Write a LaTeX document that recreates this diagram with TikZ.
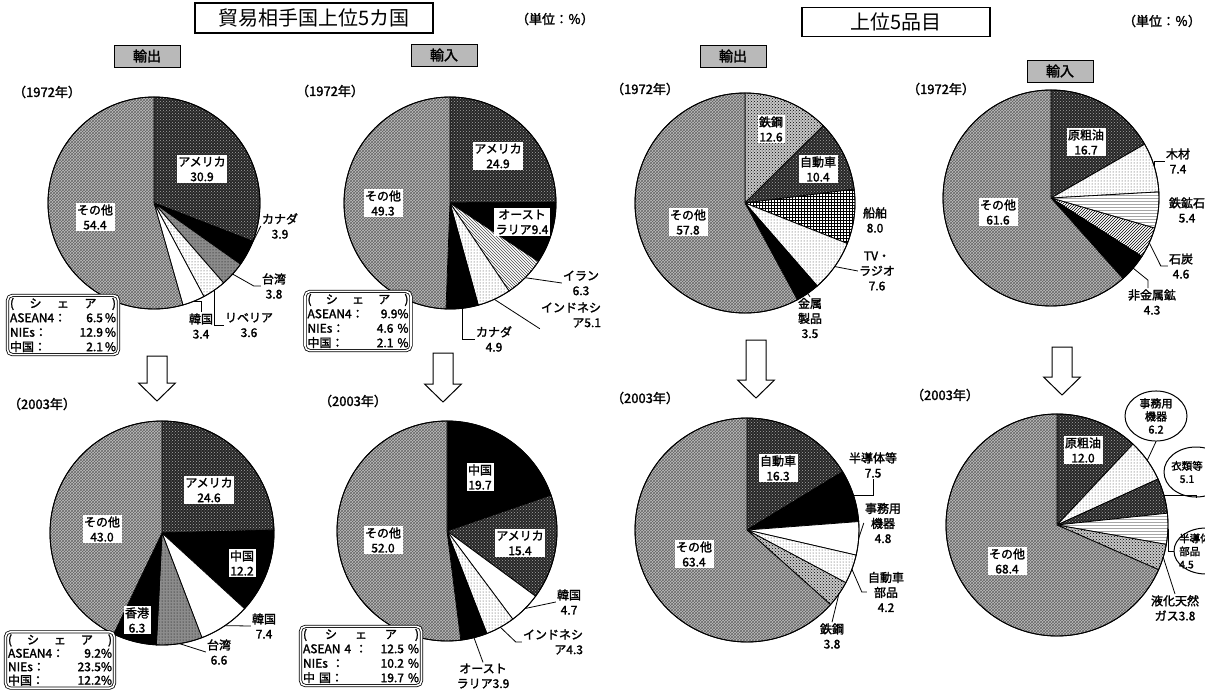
\documentclass[tikz,border=0pt]{standalone}
\usepackage{fontspec}
\setmainfont{Noto Sans CJK JP}[FakeBold=1.8]
\newfontfamily\ttlfont{Noto Sans CJK JP}
\usetikzlibrary{patterns, shapes.geometric, calc}
\tikzset{
  slc/.style={draw=black, line width=0.8pt},
  sothr/.style={slc, preaction={fill=gray!50}, pattern=crosshatch, pattern color=black!60},
  sdark/.style={slc, preaction={fill=black!85}, pattern=crosshatch dots, pattern color=gray!70},
  smid/.style={slc, preaction={fill=black!45}, pattern=dots, pattern color=black},
  sblk/.style={slc, fill=black},
  swht/.style={slc, fill=white},
  slite/.style={slc, preaction={fill=white}, pattern=dots, pattern color=black!80},
  schk/.style={slc, preaction={fill=gray!45}, pattern=crosshatch dots, pattern color=black},
  snet/.style={slc, preaction={fill=white}, pattern=grid, pattern color=black},
  swave/.style={slc, preaction={fill=white}, pattern=north west lines, pattern color=black!70},
  shatch/.style={slc, preaction={fill=white}, pattern=north east lines, pattern color=black},
  sdash/.style={slc, preaction={fill=white}, pattern=horizontal lines, pattern color=gray!70},
  inb/.style={
    rectangle,
    fill=white,
    inner sep=1.5pt,
    align=center,
    font=\fontsize{12}{15}\selectfont
  },
  outl/.style={
    rectangle,
    inner sep=1pt,
    align=center,
    font=\fontsize{12}{15}\selectfont
  },
  ovl/.style={
    ellipse,
    draw=black,
    line width=1pt,
    fill=white,
    inner sep=0pt,
    align=center,
    font=\fontsize{11}{13}\selectfont
  },
  ovltxt/.style={
    inner sep=0pt,
    font=\fontsize{10.5}{13}\selectfont
  },
  sharebx/.style={
    rectangle,
    rounded corners=5pt,
    draw=black,
    double,
    double distance=1.6pt,
    line width=0.8pt,
    fill=white,
    inner sep=2.5pt,
    align=left,
    font=\fontsize{12}{14.5}\selectfont
  },
  ttl/.style={
    rectangle,
    draw=black,
    line width=1.5pt,
    align=center,
    font=\ttlfont\fontsize{20}{24}\selectfont
  },
  hdr/.style={
    rectangle,
    draw=black,
    fill=gray!55,
    minimum width=66,
    minimum height=22,
    font=\fontsize{14}{16}\selectfont
  },
  yr/.style={font=\fontsize{13}{15}\selectfont, inner sep=0pt},
  unit/.style={font=\fontsize{13}{15}\selectfont, inner sep=0pt},
  arrw/.style={draw=black, line width=1pt, fill=white},
  ldr/.style={draw=black, line width=0.8pt}
}
\newcommand\drawpie[3]{%
  \foreach \pa/\pb/\ps in {#3}
    \path[\ps] (#1) -- ++({-90+3.6*\pa}:#2)
      arc[start angle={-90+3.6*\pa}, end angle={-90+3.6*\pb}, radius=#2] -- cycle;
  \draw[line width=0.9pt] (#1) circle[radius=#2];}
\newcommand\hollowarrow[3]{%
  \draw[arrw] (#1-10,#2) -- (#1+10,#2) -- (#1+10,#3-18) -- (#1+18.5,#3-18)
    -- (#1,#3) -- (#1-18.5,#3-18) -- (#1-10,#3-18) -- cycle;}
\begin{document}
\begin{tikzpicture}[x=1pt, y=-1pt]
  \useasboundingbox (0,0) rectangle (1205,694);
  \coordinate (pc1) at (154,203);
  \coordinate (pc2) at (450,203);
  \coordinate (pc3) at (745,203);
  \coordinate (pc4) at (1051,198);
  \coordinate (pc5) at (162,533);
  \coordinate (pc6) at (447,531);
  \coordinate (pc7) at (747,530);
  \coordinate (pc8) at (1057,525);

  % pies
  \drawpie{pc1}{106}{0/30.9/sdark, 30.9/34.8/sblk, 34.8/38.6/smid, 38.6/42.2/slite, 42.2/45.6/swht, 45.6/100/sothr}
  \drawpie{pc2}{106}{0/24.9/sdark, 24.9/34.3/sblk, 34.3/40.6/swave, 40.6/45.7/slite, 45.7/50.6/sblk, 50.6/100/sothr}
  \drawpie{pc3}{110}{0/12.6/schk, 12.6/23/sdark, 23/31/snet, 31/38.6/slite, 38.6/42.1/sblk, 42.1/100/sothr}
  \drawpie{pc4}{108}{0/16.7/sdark, 16.7/24.1/slite, 24.1/29.5/sdash, 29.5/34.1/shatch, 34.1/38.4/sblk, 38.4/100/sothr}
  \drawpie{pc5}{112}{0/24.6/sdark, 24.6/36.8/sblk, 36.8/44.2/swht, 44.2/50.8/smid, 50.8/57.1/sblk, 57.1/100/sothr}
  \drawpie{pc6}{110}{0/19.7/sblk, 19.7/35.1/sdark, 35.1/39.8/swht, 39.8/44.1/slite, 44.1/48/sblk, 48/100/sothr}
  \drawpie{pc7}{112}{0/16.3/sdark, 16.3/23.8/sblk, 23.8/28.6/swht, 28.6/32.8/slite, 32.8/36.6/schk, 36.6/100/sothr}
  \drawpie{pc8}{111}{0/12/sdark, 12/18.2/slite, 18.2/23.3/sdark, 23.3/27.8/sdash, 27.8/31.6/schk, 31.6/100/sothr}

  % headings
  \node (ttl1) [ttl, minimum width=238, minimum height=30] at (314,18) {貿易相手国上位5カ国};
  \node (ttl2) [ttl, minimum width=188, minimum height=29] at (896,22) {上位5品目};
  \node (unt1) [unit] at (555,19) {（単位：％）};
  \node (unt2) [unit] at (1162,21) {（単位：％）};
  \node (hx1) [hdr] at (147,56) {輸出};
  \node (hx2) [hdr] at (444,55) {輸入};
  \node (hx3) [hdr] at (733,56) {輸出};
  \node (hx4) [hdr] at (1060,71) {輸入};
  \node (y1) [yr] at (47,92) {（1972年）};
  \node (y2) [yr] at (330,91) {（1972年）};
  \node (y3) [yr] at (645,89) {（1972年）};
  \node (y4) [yr] at (941,89) {（1972年）};
  \node (y5) [yr] at (42,404) {（2003年）};
  \node (y6) [yr] at (353,401) {（2003年）};
  \node (y7) [yr] at (645,398) {（2003年）};
  \node (y8) [yr] at (945,395) {（2003年）};

  % arrows
  \hollowarrow{157}{356}{401}
  \hollowarrow{443}{353}{402}
  \hollowarrow{756}{340}{398}
  \hollowarrow{1062}{347}{395}

  % labels inside
  \node (n1ame) [inb] at (202,169) {アメリカ\\30.9};
  \node (n1oth) [inb] at (95,217) {その他\\54.4};
  \node (n2ame) [inb] at (498,156) {アメリカ\\24.9};
  \node (n2oth) [inb] at (383,203) {その他\\49.3};
  \node (n2aus) [inb] at (522,222) {オースト\\ラリア9.4};
  \node (n3tek) [inb] at (771,129) {鉄鋼\\12.6};
  \node (n3car) [inb] at (818,169) {自動車\\10.4};
  \node (n3oth) [inb] at (688,222) {その他\\57.8};
  \node (n4oil) [inb] at (1086,142) {原粗油\\16.7};
  \node (n4oth) [inb] at (998,212) {その他\\61.6};
  \node (n5ame) [inb] at (209,490) {アメリカ\\24.6};
  \node (n5oth) [inb] at (102,529) {その他\\43.0};
  \node (n5chi) [inb] at (242,563) {中国\\12.2};
  \node (n5hk) [inb] at (137,620) {香港\\6.3};
  \node (n6chi) [inb] at (480,477) {中国\\19.7};
  \node (n6ame) [inb] at (520,543) {アメリカ\\15.4};
  \node (n6oth) [inb] at (383,540) {その他\\52.0};
  \node (n7car) [inb] at (778,468) {自動車\\16.3};
  \node (n7oth) [inb] at (694,554) {その他\\63.4};
  \node (n8oil) [inb] at (1083,450) {原粗油\\12.0};
  \node (n8oth) [inb] at (1007,561) {その他\\68.4};

  % labels outside
  \node (n1can) [outl] at (280,226) {カナダ\\3.9};
  \node (n1tai) [outl] at (274,286) {台湾\\3.8};
  \node (n1lib) [outl] at (249,325) {リベリア\\3.6};
  \node (n1kor) [outl] at (201,326) {韓国\\3.4};
  \node (n2ira) [outl] at (581,283) {イラン\\6.3};
  \node (n2ind) [outl, align=right] at (571,315) {インドネシ\\ア5.1};
  \node (n2can) [outl] at (494,339) {カナダ\\4.9};
  \node (n3shi) [outl] at (875,220) {船舶\\8.0};
  \node (n3tv) [outl] at (877,271) {TV・\\ラジオ\\7.6};
  \node (n3kin) [outl] at (810,318) {金属\\製品\\3.5};
  \node (n4woo) [outl] at (1178,161) {木材\\7.4};
  \node (n4ore) [outl] at (1187,210) {鉄鉱石\\5.4};
  \node (n4coa) [outl] at (1181,266) {石炭\\4.6};
  \node (n4non) [outl] at (1152,302) {非金属鉱\\4.3};
  \node (n5kor) [outl] at (264,626) {韓国\\7.4};
  \node (n5tai) [outl] at (219,652) {台湾\\6.6};
  \node (n6kor) [outl] at (569,602) {韓国\\4.7};
  \node (n6ind) [outl, align=right] at (553,642) {インドネシ\\ア4.3};
  \node (n6aus) [outl] at (483,676) {オースト\\ラリア3.9};
  \node (n7sem) [outl] at (873,465) {半導体等\\7.5};
  \node (n7off) [outl] at (883,523) {事務用\\機器\\4.8};
  \node (n7par) [outl] at (886,592) {自動車\\部品\\4.2};
  \node (n7tek) [outl] at (832,636) {鉄鋼\\3.8};
  \node (n8lng) [outl] at (1175,608) {液化天然\\ガス3.8};
  \node (n8off) [ovl, minimum width=62, minimum height=46] at (1156,416) {事務用\\機器\\6.2};
  \node (n8clo) [ovl, minimum width=64, minimum height=50] at (1196,472) {};
  \node (n8sem) [ovl, minimum width=64, minimum height=46] at (1206,551) {};
  \node (t8clo) [ovltxt, align=center] at (1187,472) {衣類等\\5.1};
  \node (t8sem) [ovltxt, align=left, anchor=west] at (1179,551) {半導体等\\部品\\4.5};

  % share boxes
  \node (sh1) [sharebx, text width=106] at (63,325)
    {(\hfill シ\hfill ェ\hfill ア\hfill )\\ASEAN4：\hfill 6.5\,\%\\NIEs：\hfill 12.9\,\%\\中国：\hfill 2.1\,\%};
  \node (sh2) [sharebx, text width=101] at (358,321)
    {(\hfill シ\hfill ェ\hfill ア\hfill )\\ASEAN4：\hfill 9.9\%\\NIEs：\hfill 4.6 \%\\中国：\hfill 2.1 \%};
  \node (sh5) [sharebx, text width=104, font=\fontsize{12}{13.5}\selectfont] at (60,660)
    {(\hfill シ\hfill ェ\hfill ア\hfill )\\ASEAN4：\hfill 9.2\%\\NIEs：\hfill 23.5\%\\中国：\hfill 12.2\%};
  \node (sh6) [sharebx, text width=116] at (361,656)
    {(\hfill シ\hfill ェ\hfill ア\hfill )\\ASEAN 4 ：\hfill 12.5 \%\\NIEs ：\hfill 10.2 \%\\中 国：\hfill 19.7 \%};

  % leaders
  \path (pc1) ++(24:106) coordinate (e1can);
  \path (pc1) ++(42.1:106) coordinate (e1tai);
  \path (pc1) ++(55.4:106) coordinate (e1lib);
  \path (pc1) ++(68:106) coordinate (e1kor);
  \draw[ldr] (e1can) -- (n1can.west);
  \draw[ldr] (e1tai) -- ($(n1tai.west)+(-7,0)$) -- (n1tai.west);
  \draw[ldr] (e1lib) |- (n1lib.west);
  \draw[ldr] (e1kor) -| (n1kor.north);
  \path (pc2) ++(44.8:106) coordinate (e2ira);
  \path (pc2) ++(65.3:106) coordinate (e2ind);
  \path (pc2) ++(83.3:106) coordinate (e2can);
  \draw[ldr] (e2ira) -- (n2ira.west);
  \draw[ldr] (e2ind) -- (n2ind.south west);
  \draw[ldr] (e2can) |- (n2can.west);
  \path (pc3) ++(35.3:110) coordinate (e3tv);
  \path (pc3) ++(55.3:110) coordinate (e3kin);
  \draw[ldr] (e3tv) -- (n3tv.west);
  \draw[ldr] (e3kin) -- (n3kin.north);
  \path (pc4) ++(-16.6:108) coordinate (e4woo);
  \path (pc4) ++(24.5:108) coordinate (e4coa);
  \path (pc4) ++(40.5:108) coordinate (e4non);
  \draw[ldr] (e4woo) |- (n4woo.west);
  \draw[ldr] (e4coa) -- ($(n4coa.west)+(-7,0)$) -- (n4coa.west);
  \draw[ldr] (e4non) -- ($(n4non.north)+(-4,-8)$) -- ($(n4non.north)+(-4,0)$);
  \path (pc5) ++(55.8:112) coordinate (e5kor);
  \path (pc5) ++(81:112) coordinate (e5tai);
  \draw[ldr] (e5kor) -- (n5kor.west);
  \draw[ldr] (e5tai) -- (n5tai.west);
  \path (pc6) ++(44.8:110) coordinate (e6kor);
  \path (pc6) ++(61:110) coordinate (e6ind);
  \path (pc6) ++(75.8:110) coordinate (e6aus);
  \draw[ldr] (e6kor) -- (n6kor.west);
  \draw[ldr] (e6ind) -- ($(n6ind.west)+(-6,0)$) -- (n6ind.west);
  \draw[ldr] (e6aus) -- (n6aus.north);
  \path (pc7) ++(-17.8:112) coordinate (e7sem);
  \path (pc7) ++(4.3:112) coordinate (e7off);
  \path (pc7) ++(20.5:112) coordinate (e7par);
  \path (pc7) ++(34.9:112) coordinate (e7tek);
  \draw[ldr] (e7sem) -| (n7sem.south);
  \draw[ldr] (e7off) -- (n7off.west);
  \draw[ldr] (e7par) -- ($(n7par.west)+(-5,0)$) -- (n7par.west);
  \draw[ldr] (e7tek) -- (n7tek.north);
  \path (pc8) ++(-35.6:111) coordinate (e8off);
  \path (pc8) ++(-15.3:111) coordinate (e8clo);
  \path (pc8) ++(2:111) coordinate (e8sem);
  \path (pc8) ++(16.9:111) coordinate (e8lng);
  \draw[ldr] (e8off) -- (n8off.south);
  \draw[ldr] (e8clo) -| (n8clo.south);
  \draw[ldr] (e8sem) |- (n8sem.west);
  \draw[ldr] (e8lng) -- (n8lng.north);
\end{tikzpicture}
\end{document}
